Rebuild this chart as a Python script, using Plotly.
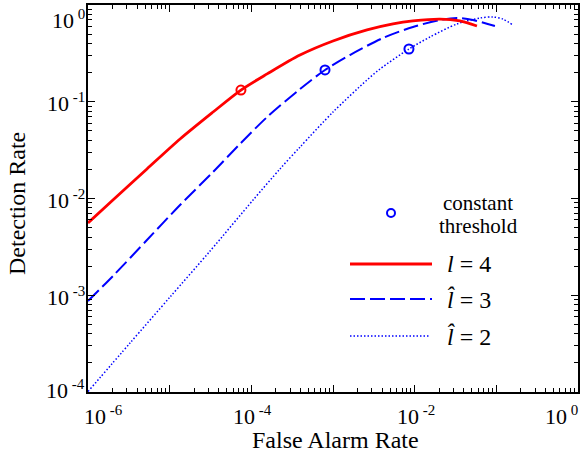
import math
import plotly.graph_objects as go

# ---- data ----
red_x = [1.0e-6, 2.02e-6, 5.27e-6, 1.34e-5, 3.40e-5, 7.46e-5, 1.56e-4, 3.94e-4, 1.0e-3,
         2.61e-3, 5.43e-3, 9.53e-3, 2.04e-2, 3.59e-2, 5.79e-2]
red_y = [5.58e-3, 9.64e-3, 2.02e-2, 4.12e-2, 7.83e-2, 0.132, 0.194, 0.304, 0.425,
         0.552, 0.637, 0.684, 0.716, 0.684, 0.607]

dash_x = [1.0e-6, 2.02e-6, 5.27e-6, 1.34e-5, 3.40e-5, 7.26e-5, 1.56e-4, 3.94e-4, 7.98e-4,
          1.61e-3, 4.09e-3, 9.53e-3, 2.04e-2, 3.30e-2, 5.18e-2, 9.61e-2]
dash_y = [8.73e-4, 1.58e-3, 3.72e-3, 8.57e-3, 1.88e-2, 3.66e-2, 6.95e-2, 0.135, 0.213,
          0.304, 0.456, 0.593, 0.700, 0.734, 0.700, 0.607]

dot_x = [1.0e-6, 3.27e-6, 1.01e-5, 3.12e-5, 1.05e-4, 2.24e-4, 3.94e-4, 1.0e-3, 2.61e-3,
         3.76e-3, 8.51e-3, 1.54e-2, 3.30e-2, 6.31e-2, 9.10e-2, 0.120, 0.160]
dot_y = [1.01e-4, 3.21e-4, 9.59e-4, 2.86e-3, 9.64e-3, 2.02e-2, 3.40e-2, 7.83e-2, 0.168,
         0.218, 0.351, 0.467, 0.637, 0.734, 0.752, 0.716, 0.621]

red_mark_x = [7.46e-5]
red_mark_y = [0.132]
blue_mark_x = [7.98e-4, 8.51e-3]
blue_mark_y = [0.213, 0.351]

x_tickvals = [1e-6, 1e-5, 1e-4, 1e-3, 1e-2, 1e-1, 1e0]
x_label_vals = [1e-6, 1e-4, 1e-2, 1e0]
x_label_exps = ["-6", "-4", "-2", "0"]
y_tickvals = [1e-4, 1e-3, 1e-2, 1e-1, 1e0]
y_label_exps = ["-4", "-3", "-2", "-1", "0"]

legend_labels = ["<i>l</i> = 4", "<i>l\u0302</i> = 3", "<i>l\u0302</i> = 2"]
marker_label = ["constant", "threshold"]

RED = "#ff0000"
BLUE = "#0000ff"
FONT = "Liberation Serif"

fig = go.Figure()
fig.add_trace(go.Scatter(x=dot_x, y=dot_y, mode="lines",
                         line=dict(color=BLUE, width=1.5, dash="1.5px,2px", shape="spline", smoothing=0.8),
                         showlegend=False))
fig.add_trace(go.Scatter(x=dash_x, y=dash_y, mode="lines",
                         line=dict(color=BLUE, width=2, dash="15px,5px", shape="spline", smoothing=0.8),
                         showlegend=False))
fig.add_trace(go.Scatter(x=red_x, y=red_y, mode="lines",
                         line=dict(color=RED, width=2.8, shape="spline", smoothing=0.8), showlegend=False))
fig.add_trace(go.Scatter(x=red_mark_x, y=red_mark_y, mode="markers",
                         marker=dict(symbol="circle-open", size=9, color=RED, line=dict(width=2)),
                         showlegend=False))
fig.add_trace(go.Scatter(x=blue_mark_x, y=blue_mark_y, mode="markers",
                         marker=dict(symbol="circle-open", size=9, color=BLUE, line=dict(width=2)),
                         showlegend=False))

# ---- layout in pixels: plot area 88..578 x 5..392 ----
W, H = 583, 459
L, R, T, B = 88, 578, 5, 392
XR = [-6, 0]
YR = [-4, 0]


def px(xp):
    return (xp - L) / (R - L)


def py(yp):
    return (B - yp) / (B - T)


def xpix(v):
    return L + (math.log10(v) - XR[0]) / (XR[1] - XR[0]) * (R - L)


def ypix(v):
    return B - (math.log10(v) - YR[0]) / (YR[1] - YR[0]) * (B - T)


def tick_text(exp):
    return "10<sup><span style='font-size:15px'> " + exp + "</span></sup>"


annotations = []
# x tick labels
for i, (v, e) in enumerate(zip(x_label_vals, x_label_exps)):
    xp = xpix(v)
    if i == 0:
        a = dict(x=px(xp - 6), xanchor="left")
    elif i == len(x_label_vals) - 1:
        a = dict(x=px(xp + 2), xanchor="right")
    else:
        a = dict(x=px(xp + 1), xanchor="center")
    a.update(text=tick_text(e), xref="paper", yref="paper", y=py(415), yanchor="middle",
             showarrow=False, font=dict(family=FONT, size=22, color="black"))
    annotations.append(a)
# y tick labels
for i, (v, e) in enumerate(zip(y_tickvals, y_label_exps)):
    yp = ypix(v)
    if i == 0:
        yp -= 3
    elif i == len(y_tickvals) - 1:
        yp += 15
    else:
        yp += 1
    annotations.append(dict(text=tick_text(e), xref="paper", yref="paper", x=px(87), xanchor="right",
                            y=py(yp), yanchor="middle", showarrow=False,
                            font=dict(family=FONT, size=22, color="black")))
# axis titles
annotations.append(dict(text="False Alarm Rate", xref="paper", yref="paper", x=px(335), y=py(440),
                        xanchor="center", yanchor="middle", showarrow=False,
                        font=dict(family=FONT, size=24, color="black")))
annotations.append(dict(text="Detection Rate", xref="paper", yref="paper", x=px(17), y=py(204),
                        xanchor="center", yanchor="middle", showarrow=False, textangle=-90,
                        font=dict(family=FONT, size=24, color="black")))
# legend texts
annotations.append(dict(text=marker_label[0], xref="paper", yref="paper", x=px(478), y=py(203),
                        xanchor="center", yanchor="middle", showarrow=False,
                        font=dict(family=FONT, size=21, color="black")))
annotations.append(dict(text=marker_label[1], xref="paper", yref="paper", x=px(478), y=py(226),
                        xanchor="center", yanchor="middle", showarrow=False,
                        font=dict(family=FONT, size=21, color="black")))
for lab, yp in zip(legend_labels, [264, 299, 336]):
    annotations.append(dict(text=lab, xref="paper", yref="paper", x=px(445), y=py(yp),
                            xanchor="left", yanchor="middle", showarrow=False,
                            font=dict(family=FONT, size=24, color="black")))

shapes = [
    dict(type="circle", xref="paper", yref="paper", xsizemode="pixel", ysizemode="pixel",
         xanchor=px(391), yanchor=py(213), x0=-4, x1=4, y0=-4, y1=4, line=dict(color=BLUE, width=2)),
    dict(type="line", xref="paper", yref="paper", x0=px(350), x1=px(432), y0=py(264), y1=py(264),
         line=dict(color=RED, width=2.8)),
    dict(type="line", xref="paper", yref="paper", x0=px(350), x1=px(432), y0=py(299), y1=py(299),
         line=dict(color=BLUE, width=2, dash="15px,5px")),
    dict(type="line", xref="paper", yref="paper", x0=px(350), x1=px(430), y0=py(336), y1=py(336),
         line=dict(color=BLUE, width=1.5, dash="1.5px,2px")),
]

axis_common = dict(
    type="log", showgrid=False, zeroline=False, showline=True, linecolor="black", linewidth=1.5,
    mirror="allticks", ticks="inside", ticklen=7, tickwidth=1, tickcolor="black",
    showticklabels=False, automargin=False, tickmode="array",
    minor=dict(ticks="inside", ticklen=4, tickwidth=1, tickcolor="black", dtick="D1", showgrid=False),
)

fig.update_layout(
    width=W, height=H, paper_bgcolor="white", plot_bgcolor="white",
    margin=dict(l=L, r=W - R, t=T, b=H - B, autoexpand=False),
    shapes=shapes, annotations=annotations, showlegend=False,
    xaxis=dict(axis_common, range=XR, tickvals=x_tickvals),
    yaxis=dict(axis_common, range=YR, tickvals=y_tickvals),
)

fig.write_html("out.html", config={"displayModeBar": False},
               post_script="document.body.style.margin='0px';")
